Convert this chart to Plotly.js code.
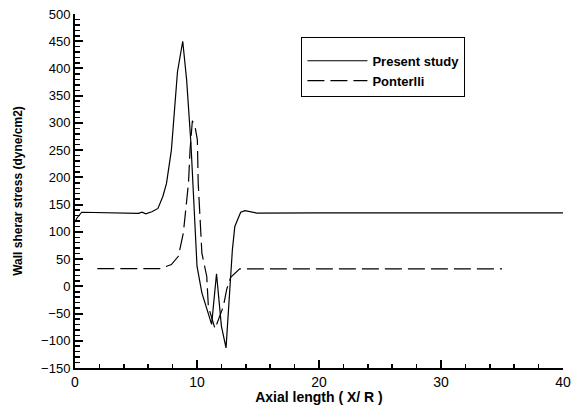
<!DOCTYPE html>
<html><head><meta charset="utf-8">
<script src="https://cdn.plot.ly/plotly-3.0.1.min.js"></script>
<style>html,body{margin:0;padding:0;background:#fff}#c{width:574px;height:405px}</style>
</head><body><div id="c"></div>
<script>
var presentX = [0, 0.15, 0.55, 2, 4, 5.2, 5.5, 5.8, 6.3, 6.8, 7.2, 7.5, 7.9, 8.4, 8.83, 9.15, 9.5, 10.0, 10.4, 10.8, 11.2, 11.6, 12.0, 12.38, 12.9, 13.1, 13.58, 13.93, 14.9, 20, 30, 40];
var presentY = [118, 125, 136, 135, 135, 134, 136, 133, 137, 143, 165, 189, 250, 394, 450, 379, 263, 37, -12, -40, -70, 23, -73, -113, 67, 110, 136, 139, 134.5, 135, 135, 135];
var ponX = [1.83, 4, 6.97, 7.9, 8.47, 8.88, 9.3, 9.43, 9.62, 9.84, 10.03, 10.1, 10.4, 10.8, 10.93, 11.48, 12.16, 12.43, 12.76, 13.5, 20, 30, 35];
var ponY = [32.4, 32.4, 32.4, 40, 55, 98, 189, 250, 304, 293, 269, 189, 61, 18, -37, -78, -37, -6, 16.6, 32, 32, 32, 32];
var seriesNames = ["Present study", "Ponterlli"];

var traces = [
  {x: presentX, y: presentY, mode: 'lines', name: seriesNames[0], line: {color: '#000', width: 1.2}},
  {x: ponX, y: ponY, mode: 'lines', name: seriesNames[1], line: {color: '#000', width: 1.2, dash: '17px,6px'}}
];
var layout = {
  width: 574, height: 405,
  margin: {l: 75, r: 11, t: 14, b: 37},
  paper_bgcolor: '#fff', plot_bgcolor: '#fff',
  font: {family: 'Liberation Sans, Arial, sans-serif', color: '#000', size: 13},
  showlegend: true,
  legend: {x: 0.464, y: 0.935, xanchor: 'left', yanchor: 'top', bordercolor: '#000', borderwidth: 1,
           bgcolor: '#fff', itemwidth: 60,
           title: {text: ' ', font: {size: 6}},
           font: {size: 13, family: 'Liberation Sans, Arial, sans-serif', weight: 'bold'}},
  xaxis: {range: [0, 40], dtick: 10, tick0: 0, ticks: 'inside', ticklen: 8, tickwidth: 2, tickcolor: '#000',
          showline: true, linecolor: '#000', linewidth: 2, showgrid: false, zeroline: false,
          minor: {dtick: 2, ticks: 'inside', ticklen: 4, tickwidth: 1.5, tickcolor: '#000', showgrid: false},
          tickfont: {size: 14},
          title: {text: '<b>Axial length ( X/ R )</b>', font: {size: 14}, standoff: 2}},
  yaxis: {range: [-150, 500], dtick: 50, tick0: 0, ticks: 'inside', ticklen: 8, tickwidth: 2, tickcolor: '#000',
          showline: true, linecolor: '#000', linewidth: 2, showgrid: false, zeroline: false,
          minor: {dtick: 10, ticks: 'inside', ticklen: 5, tickwidth: 1.5, tickcolor: '#000', showgrid: false},
          tickfont: {size: 13},
          title: {text: '<b>Wall sherar stress (dyne/cm2)</b>', font: {size: 12}, standoff: 16}}
};
Plotly.newPlot('c', traces, layout, {displayModeBar: false, staticPlot: true});
</script></body></html>
